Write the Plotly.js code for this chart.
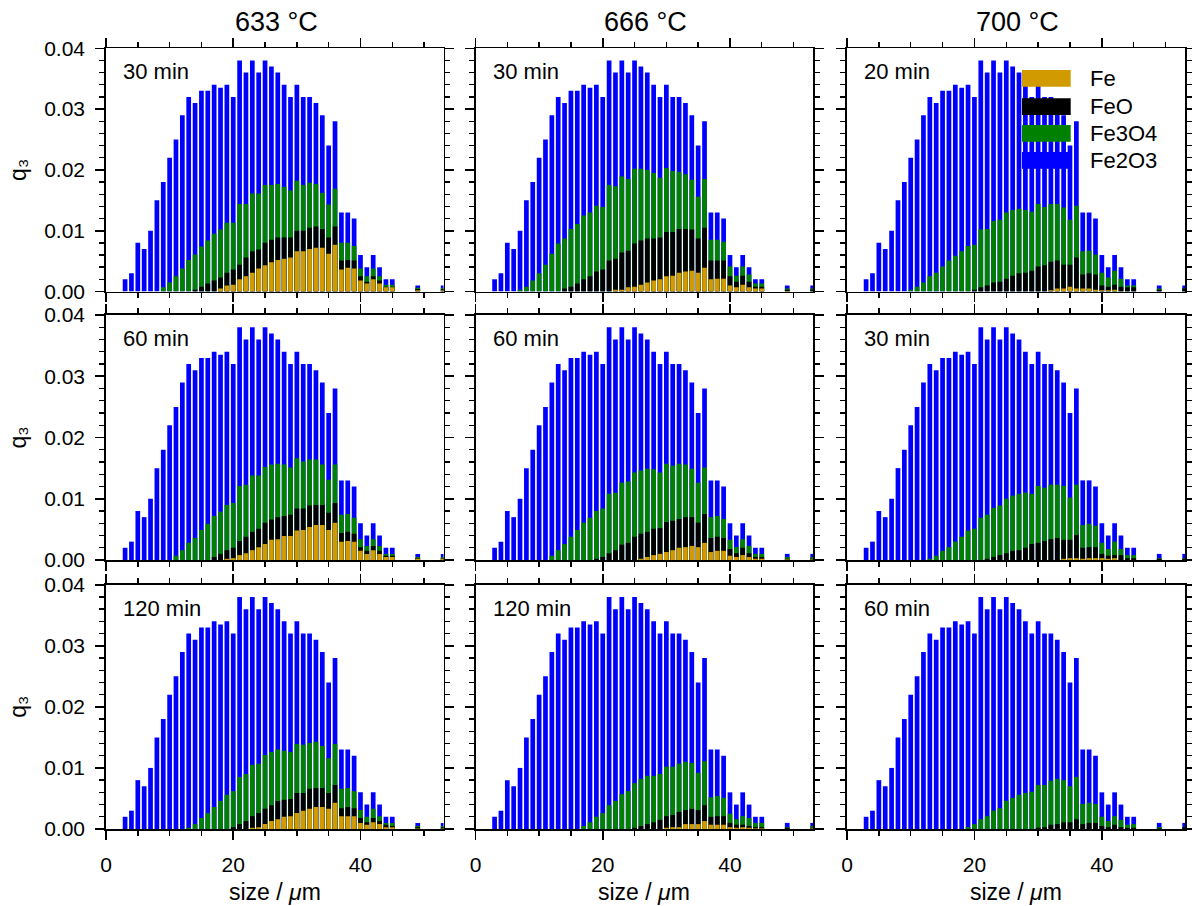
<!DOCTYPE html>
<html>
<head>
<meta charset="utf-8">
<script src="https://cdn.plot.ly/plotly-3.0.1.min.js"></script>
<style>html,body{margin:0;padding:0;background:#fff}#chart{width:1192px;height:906px}</style>
</head>
<body>
<div id="chart"></div>
<script>
// particle size classes (µm)
const sizeBins = [3,4,5,6,7,8,9,10,11,12,13,14,15,16,17,18,19,20,21,22,23,24,25,26,27,28,29,30,31,32,33,34,35,36,37,38,39,40,41,42,43,44,45,49,53];
// total q3 (top of every bar)
const q3Total = [0.0020,0.0030,0.0080,0.0070,0.0100,0.0150,0.0180,0.0220,0.0250,0.0290,0.0320,0.0310,0.0330,0.0330,0.0340,0.0335,0.0340,0.0320,0.0380,0.0360,0.0380,0.0360,0.0380,0.0370,0.0360,0.0340,0.0320,0.0340,0.0320,0.0320,0.0310,0.0290,0.0240,0.0280,0.0130,0.0130,0.0120,0.0060,0.0040,0.0060,0.0040,0.0020,0.0020,0.0010,0.0010];

// cumulative levels: Fe, Fe+FeO, Fe+FeO+Fe3O4
// 633 °C, 30 min
const fe_633_30 = [0,0,0,0,0,0,0,0,0,0,0,0,0,0,0, 0.0005,0.0010,0.0011,0.0020,0.0025,0.0031,0.0038,0.0043,0.0048,0.0052,0.0054,0.0056,0.0066,0.0066,0.0070,0.0072,0.0072,0.0062,0.0077,0.0036,0.0039,0.0038,0.0018,0.0013,0.0020,0.0013,0.0007,0.0007, 0.0002,0.0002];
const upToFeO_633_30 = [0,0,0,0,0,0,0,0,0,0,0, 0.0003,0.0008,0.0013,0.0018,0.0023,0.0031,0.0036,0.0044,0.0056,0.0066,0.0069,0.0080,0.0085,0.0089,0.0089,0.0089,0.0100,0.0100,0.0105,0.0107,0.0103,0.0089,0.0107,0.0051,0.0052,0.0051,0.0025,0.0016,0.0025,0.0018,0.0008,0.0008, 0.0004,0.0004];
const upToFe3O4_633_30 = [0,0,0,0,0,0, 0.0007,0.0015,0.0025,0.0038,0.0052,0.0061,0.0074,0.0084,0.0095,0.0102,0.0113,0.0113,0.0144,0.0144,0.0161,0.0161,0.0175,0.0175,0.0177,0.0172,0.0166,0.0182,0.0175,0.0179,0.0177,0.0162,0.0143,0.0169,0.0080,0.0080,0.0075,0.0038,0.0025,0.0038,0.0025,0.0011,0.0011, 0.0006,0.0006];
// 633 °C, 60 min
const fe_633_60 = [0,0,0,0,0,0,0,0,0,0,0,0,0,0,0,0, 0.0002,0.0003,0.0008,0.0011,0.0016,0.0021,0.0026,0.0033,0.0034,0.0039,0.0039,0.0048,0.0049,0.0054,0.0057,0.0057,0.0049,0.0061,0.0030,0.0031,0.0030,0.0015,0.0010,0.0016,0.0010,0.0005,0.0005, 0.0002,0.0002];
const upToFeO_633_60 = [0,0,0,0,0,0,0,0,0,0,0,0,0,0, 0.0005,0.0010,0.0016,0.0020,0.0031,0.0038,0.0046,0.0051,0.0061,0.0066,0.0070,0.0072,0.0074,0.0084,0.0084,0.0089,0.0090,0.0090,0.0077,0.0093,0.0044,0.0046,0.0043,0.0021,0.0015,0.0023,0.0015,0.0007,0.0007, 0.0003,0.0003];
const upToFe3O4_633_60 = [0,0,0,0,0,0,0,0, 0.0007,0.0016,0.0028,0.0036,0.0049,0.0059,0.0072,0.0079,0.0090,0.0093,0.0121,0.0123,0.0138,0.0138,0.0152,0.0156,0.0157,0.0156,0.0151,0.0166,0.0161,0.0164,0.0164,0.0156,0.0131,0.0156,0.0074,0.0075,0.0069,0.0034,0.0023,0.0034,0.0023,0.0010,0.0010, 0.0005,0.0005];
// 633 °C, 120 min
const fe_633_120 = [0,0,0,0,0,0,0,0,0,0,0,0,0,0,0,0,0,0,0,0, 0.0002,0.0003,0.0008,0.0013,0.0016,0.0020,0.0021,0.0026,0.0030,0.0033,0.0036,0.0036,0.0033,0.0043,0.0021,0.0021,0.0021,0.0010,0.0007,0.0011,0.0008,0.0003,0.0003, 0.0001,0.0001];
const upToFeO_633_120 = [0,0,0,0,0,0,0,0,0,0,0,0,0,0,0,0,0, 0.0003,0.0008,0.0013,0.0021,0.0026,0.0033,0.0039,0.0046,0.0048,0.0049,0.0059,0.0059,0.0066,0.0067,0.0067,0.0059,0.0072,0.0034,0.0036,0.0034,0.0018,0.0011,0.0018,0.0013,0.0007,0.0005, 0.0003,0.0003];
const upToFe3O4_633_120 = [0,0,0,0,0,0,0,0,0,0, 0.0002,0.0008,0.0018,0.0026,0.0036,0.0046,0.0056,0.0062,0.0085,0.0090,0.0105,0.0107,0.0121,0.0126,0.0130,0.0128,0.0126,0.0139,0.0138,0.0141,0.0143,0.0136,0.0116,0.0139,0.0066,0.0067,0.0062,0.0031,0.0020,0.0033,0.0021,0.0010,0.0010, 0.0005,0.0005];
// 666 °C, 30 min
const fe_666_30 = [0,0,0,0,0,0,0,0,0,0,0,0,0,0,0,0,0,0,0, 0.0003,0.0003,0.0007,0.0008,0.0011,0.0015,0.0018,0.0020,0.0025,0.0026,0.0031,0.0033,0.0034,0.0031,0.0039,0.0020,0.0021,0.0021,0.0010,0.0007,0.0011,0.0007,0.0005,0.0005, 0.0001,0.0001];
const upToFeO_666_30 = [0,0,0,0,0,0,0,0,0,0,0, 0.0005,0.0008,0.0013,0.0020,0.0025,0.0033,0.0036,0.0051,0.0054,0.0064,0.0067,0.0079,0.0084,0.0087,0.0087,0.0089,0.0098,0.0098,0.0103,0.0103,0.0102,0.0087,0.0105,0.0051,0.0051,0.0051,0.0025,0.0016,0.0026,0.0016,0.0008,0.0008, 0.0003,0.0003];
const upToFe3O4_666_30 = [0,0,0,0, 0.0003,0.0008,0.0018,0.0030,0.0044,0.0062,0.0079,0.0087,0.0103,0.0111,0.0125,0.0130,0.0141,0.0139,0.0175,0.0173,0.0189,0.0185,0.0202,0.0202,0.0200,0.0195,0.0187,0.0203,0.0198,0.0197,0.0193,0.0184,0.0156,0.0185,0.0085,0.0085,0.0082,0.0041,0.0026,0.0041,0.0028,0.0013,0.0013, 0.0005,0.0005];
// 666 °C, 60 min
const fe_666_60 = [0,0,0,0,0,0,0,0,0,0,0,0,0,0,0,0,0,0,0,0,0,0,0, 0.0002,0.0005,0.0008,0.0010,0.0013,0.0016,0.0020,0.0021,0.0023,0.0021,0.0028,0.0013,0.0015,0.0015,0.0007,0.0005,0.0008,0.0005,0.0002,0.0002, 0.0001,0.0001];
const upToFeO_666_60 = [0,0,0,0,0,0,0,0,0,0,0,0,0,0,0,0, 0.0002,0.0005,0.0011,0.0016,0.0025,0.0028,0.0038,0.0043,0.0046,0.0051,0.0052,0.0062,0.0064,0.0067,0.0070,0.0070,0.0061,0.0075,0.0036,0.0038,0.0036,0.0018,0.0011,0.0020,0.0011,0.0005,0.0005, 0.0002,0.0002];
const upToFe3O4_666_60 = [0,0,0,0,0,0,0,0,0, 0.0007,0.0016,0.0026,0.0038,0.0049,0.0061,0.0069,0.0080,0.0084,0.0108,0.0110,0.0126,0.0128,0.0143,0.0146,0.0149,0.0148,0.0143,0.0157,0.0154,0.0157,0.0156,0.0149,0.0126,0.0151,0.0070,0.0072,0.0067,0.0033,0.0021,0.0034,0.0023,0.0010,0.0010, 0.0005,0.0005];
// 666 °C, 120 min
const fe_666_120 = [0,0,0,0,0,0,0,0,0,0,0,0,0,0,0,0,0,0,0,0,0,0,0,0,0,0,0, 0.0002,0.0003,0.0003,0.0008,0.0008,0.0008,0.0013,0.0007,0.0007,0.0007,0.0003,0.0002,0.0003,0.0002,0.0001,0.0001, 0,0.0001];
const upToFeO_666_120 = [0,0,0,0,0,0,0,0,0,0,0,0,0,0,0,0,0,0,0,0,0,0, 0.0002,0.0005,0.0008,0.0011,0.0015,0.0021,0.0023,0.0028,0.0031,0.0033,0.0031,0.0039,0.0020,0.0021,0.0021,0.0010,0.0007,0.0007,0.0005,0.0003,0.0003, 0.0002,0.0002];
const upToFe3O4_666_120 = [0,0,0,0,0,0,0,0,0,0,0,0,0,0, 0.0005,0.0011,0.0020,0.0026,0.0039,0.0046,0.0057,0.0062,0.0075,0.0082,0.0087,0.0087,0.0090,0.0102,0.0102,0.0107,0.0110,0.0108,0.0092,0.0111,0.0052,0.0054,0.0051,0.0025,0.0016,0.0021,0.0018,0.0010,0.0010, 0.0003,0.0005];
// 700 °C, 20 min
const fe_700_20 = [0,0,0,0,0,0,0,0,0,0,0,0,0,0,0,0,0,0,0,0,0,0,0,0,0,0,0,0,0, 0.0002,0.0005,0.0005,0.0008,0.0005,0.0005,0.0005,0.0003,0.0002,0.0002,0.0003,0.0001,0,0, 0,0];
const upToFeO_700_20 = [0,0,0,0,0,0,0,0,0,0,0,0,0,0,0,0,0, 0.0003,0.0007,0.0010,0.0015,0.0016,0.0021,0.0026,0.0030,0.0031,0.0034,0.0041,0.0043,0.0049,0.0051,0.0044,0.0044,0.0056,0.0028,0.0030,0.0028,0.0010,0.0008,0.0011,0.0008,0.0007,0.0007, 0.0003,0.0005];
const upToFe3O4_700_20 = [0,0,0,0,0,0,0, 0.0003,0.0008,0.0015,0.0025,0.0031,0.0041,0.0051,0.0059,0.0066,0.0075,0.0077,0.0102,0.0103,0.0116,0.0118,0.0130,0.0134,0.0136,0.0134,0.0131,0.0144,0.0139,0.0144,0.0144,0.0138,0.0118,0.0141,0.0066,0.0067,0.0061,0.0031,0.0023,0.0034,0.0021,0.0010,0.0010, 0.0005,0.0005];
// 700 °C, 30 min
const fe_700_30 = [0,0,0,0,0,0,0,0,0,0,0,0,0,0,0,0,0,0,0,0,0,0,0,0,0,0,0,0,0,0,0, 0.0002,0.0003,0.0003,0.0002,0.0003,0.0003,0.0003,0.0002,0.0003,0,0,0, 0,0];
const upToFeO_700_30 = [0,0,0,0,0,0,0,0,0,0,0,0,0,0,0,0,0,0,0, 0.0002,0.0005,0.0008,0.0011,0.0015,0.0016,0.0020,0.0026,0.0028,0.0031,0.0034,0.0036,0.0033,0.0033,0.0041,0.0020,0.0021,0.0021,0.0010,0.0007,0.0008,0.0008,0.0003,0.0003, 0.0002,0.0002];
const upToFe3O4_700_30 = [0,0,0,0,0,0,0,0,0,0, 0.0002,0.0007,0.0015,0.0021,0.0030,0.0038,0.0048,0.0051,0.0069,0.0074,0.0085,0.0089,0.0100,0.0105,0.0108,0.0110,0.0108,0.0121,0.0118,0.0123,0.0123,0.0121,0.0102,0.0123,0.0057,0.0059,0.0056,0.0028,0.0018,0.0030,0.0018,0.0008,0.0008, 0.0003,0.0003];
// 700 °C, 60 min
const fe_700_60 = [0,0,0,0,0,0,0,0,0,0,0,0,0,0,0,0,0,0,0,0,0,0,0,0,0,0,0,0,0,0,0,0,0,0,0,0,0,0,0,0,0,0,0,0,0];
const upToFeO_700_60 = [0,0,0,0,0,0,0,0,0,0,0,0,0,0,0,0,0,0,0,0,0,0,0,0,0,0,0, 0.0002,0.0003,0.0007,0.0008,0.0011,0.0011,0.0016,0.0008,0.0010,0.0010,0.0005,0.0003,0.0007,0.0003,0.0002,0.0002, 0.0001,0.0003];
const upToFe3O4_700_60 = [0,0,0,0,0,0,0,0,0,0,0,0,0,0,0,0, 0.0003,0.0008,0.0016,0.0021,0.0030,0.0034,0.0046,0.0051,0.0056,0.0059,0.0061,0.0072,0.0072,0.0079,0.0082,0.0080,0.0070,0.0085,0.0041,0.0043,0.0041,0.0020,0.0013,0.0021,0.0015,0.0007,0.0008, 0.0003,0.0003];

const temperatures = ['633 °C', '666 °C', '700 °C'];
const seriesNames = ['Fe', 'FeO', 'Fe3O4', 'Fe2O3'];
const seriesColors = ['#D19B00', '#000000', '#008000', '#0000FF'];

// panels row by row (left to right)
const panels = [
  {time: '30 min',  fe: fe_633_30,  feo: upToFeO_633_30,  fe3o4: upToFe3O4_633_30},
  {time: '30 min',  fe: fe_666_30,  feo: upToFeO_666_30,  fe3o4: upToFe3O4_666_30},
  {time: '20 min',  fe: fe_700_20,  feo: upToFeO_700_20,  fe3o4: upToFe3O4_700_20},
  {time: '60 min',  fe: fe_633_60,  feo: upToFeO_633_60,  fe3o4: upToFe3O4_633_60},
  {time: '60 min',  fe: fe_666_60,  feo: upToFeO_666_60,  fe3o4: upToFe3O4_666_60},
  {time: '30 min',  fe: fe_700_30,  feo: upToFeO_700_30,  fe3o4: upToFe3O4_700_30},
  {time: '120 min', fe: fe_633_120, feo: upToFeO_633_120, fe3o4: upToFe3O4_633_120},
  {time: '120 min', fe: fe_666_120, feo: upToFeO_666_120, fe3o4: upToFe3O4_666_120},
  {time: '60 min',  fe: fe_700_60,  feo: upToFeO_700_60,  fe3o4: upToFe3O4_700_60}
];
panels.forEach((p, i) => {
  [p.fe, p.feo, p.fe3o4].forEach(a => { if (a.length !== sizeBins.length) throw new Error('bad length in panel ' + i + ': ' + a.length); });
});

const W = 1192, H = 906;
const colL = [106, 475.5, 847], colR = [443.5, 813, 1185];
const rowT = [48.3, 315, 584.7], rowB = [291.5, 560, 829];
const FONT = 'Liberation Sans, Arial, Helvetica, sans-serif';

const traces = [];
const layout = {
  width: W, height: H,
  margin: {l: 0, r: 0, t: 0, b: 0},
  paper_bgcolor: '#ffffff', plot_bgcolor: '#ffffff',
  barmode: 'overlay',
  showlegend: false,
  font: {family: FONT, color: '#000000'},
  annotations: [], shapes: []
};

panels.forEach((p, k) => {
  const row = Math.floor(k / 3), col = k % 3;
  const s = k === 0 ? '' : String(k + 1);
  const levels = [p.fe, p.feo, p.fe3o4, q3Total];
  // draw the tallest level first so the lower layers sit on top
  for (let j = 3; j >= 0; j--) {
    traces.push({
      type: 'bar', x: sizeBins, y: levels[j], width: 0.74,
      xaxis: 'x' + s, yaxis: 'y' + s, name: seriesNames[j],
      marker: {color: seriesColors[j], line: {width: 0}}, opacity: 1,
      showlegend: false, hoverinfo: 'x+y+name'
    });
  }
  const tickCommon = {
    ticks: 'outside', tickcolor: '#000', tickwidth: 1.6, ticklen: 9,
    showline: true, linecolor: '#000', linewidth: 1.8, mirror: 'allticks',
    showgrid: false, zeroline: false, fixedrange: true,
    tickfont: {family: FONT, size: 21, color: '#000'}
  };
  layout['xaxis' + s] = Object.assign({}, tickCommon, {
    domain: [colL[col] / W, colR[col] / W], anchor: 'y' + s,
    range: [0, 53.05], tick0: 0, dtick: 20,
    showticklabels: row === 2, ticklabelstandoff: 7,
    minor: {dtick: 5, tick0: 0, ticks: 'outside', ticklen: 5, tickwidth: 1.4, tickcolor: '#000', showgrid: false}
  });
  layout['yaxis' + s] = Object.assign({}, tickCommon, {
    domain: [1 - rowB[row] / H, 1 - rowT[row] / H], anchor: 'x' + s,
    range: [0, 0.04], tick0: 0, dtick: 0.01, tickformat: '.2f',
    showticklabels: col === 0, ticklabelstandoff: 6,
    minor: {dtick: 0.002, tick0: 0, ticks: 'outside', ticklen: 5, tickwidth: 1.4, tickcolor: '#000', showgrid: false}
  });
  layout.annotations.push({
    text: p.time, xref: 'paper', yref: 'paper',
    x: (colL[col] + 15) / W, y: 1 - (rowT[row] + 23.5) / H,
    xanchor: 'left', yanchor: 'middle', showarrow: false,
    font: {family: FONT, size: 22, color: '#000'}
  });
});

// column titles and axis titles
for (let c = 0; c < 3; c++) {
  const cx = (colL[c] + colR[c]) / 2 / W;
  layout.annotations.push({
    text: temperatures[c], xref: 'paper', yref: 'paper', x: cx + 1.5 / W, y: 1 - 22 / H,
    xanchor: 'center', yanchor: 'middle', showarrow: false,
    font: {family: FONT, size: 27, color: '#000'}
  });
  layout.annotations.push({
    text: 'size / <i>μ</i>m', xref: 'paper', yref: 'paper', x: cx, y: 1 - 892 / H,
    xanchor: 'center', yanchor: 'middle', showarrow: false,
    font: {family: FONT, size: 23, color: '#000'}
  });
}
for (let r = 0; r < 3; r++) {
  layout.annotations.push({
    text: 'q₃', xref: 'paper', yref: 'paper',
    x: 18 / W, y: 1 - (rowT[r] + rowB[r]) / 2 / H,
    xanchor: 'center', yanchor: 'middle', textangle: -90, showarrow: false,
    font: {family: FONT, size: 23, color: '#000'}
  });
}

// legend (drawn in the 700 °C / 20 min panel)
const legY = [78.3, 106.7, 133.3, 160.3];
for (let j = 0; j < 4; j++) {
  layout.shapes.push({
    type: 'rect', xref: 'paper', yref: 'paper', layer: 'above',
    x0: 1022 / W, x1: 1070.7 / W,
    y0: 1 - (legY[j] - 8.4) / H, y1: 1 - (legY[j] + 8.4) / H,
    fillcolor: seriesColors[j], line: {width: 0}
  });
  layout.annotations.push({
    text: seriesNames[j], xref: 'paper', yref: 'paper',
    x: 1088 / W, y: 1 - legY[j] / H, xanchor: 'left', yanchor: 'middle',
    showarrow: false, font: {family: FONT, size: 22, color: '#000'}
  });
}

Plotly.newPlot('chart', traces, layout, {staticPlot: true, displayModeBar: false});
</script>
</body>
</html>
